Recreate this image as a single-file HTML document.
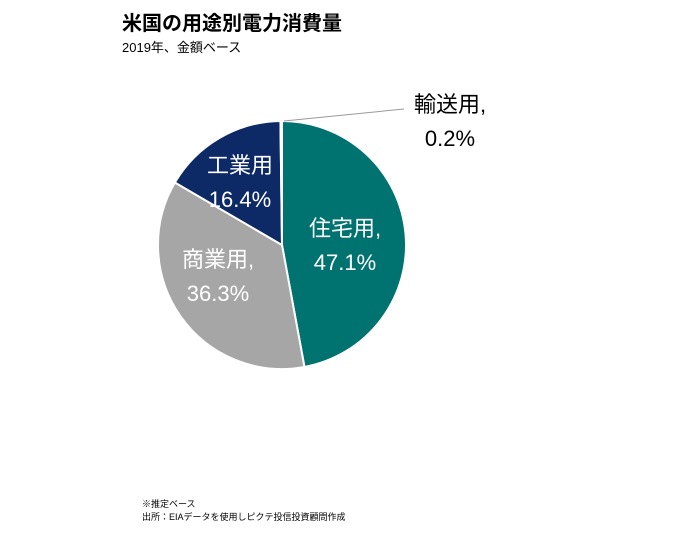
<!DOCTYPE html>
<html><head><meta charset="utf-8"><style>
body{margin:0;background:#fff;width:693px;height:543px;overflow:hidden;font-family:"Liberation Sans","Noto Sans CJK JP",sans-serif;}
</style></head><body>
<svg width="693" height="543">
<text x="122" y="30" font-size="20" font-weight="bold" fill="#000" style="font-family:'Liberation Sans','Noto Sans CJK JP',sans-serif">米国の用途別電力消費量</text>
<text x="122" y="52" font-size="13" fill="#000" style="font-family:'Liberation Sans','Noto Sans CJK JP',sans-serif">2019年、金額ベース</text>
<g id="slices"></g>
<g id="labels" style="font-family:'Liberation Sans','Noto Sans CJK JP',sans-serif"></g>
<line x1="284" y1="121" x2="404" y2="109" stroke="#999" stroke-width="1"/>
<text x="142" y="507" font-size="9" fill="#000" style="font-family:'Liberation Sans','Noto Sans CJK JP',sans-serif">※推定ベース</text>
<text x="142" y="520" font-size="9" fill="#000" style="font-family:'Liberation Sans','Noto Sans CJK JP',sans-serif">出所：EIAデータを使用しピクテ投信投資顧問作成</text>
</svg>
<script>
const categories=["住宅用","商業用","工業用","輸送用"];
const values=[47.1,36.3,16.4,0.2];
const valueLabels=["47.1%","36.3%","16.4%","0.2%"];
const colors=["#007370","#a6a6a6","#0e2a66","#0e2a66"];
const names=["slice-residential","slice-commercial","slice-industrial","slice-transport"];
const cx=282,cy=245,r=124;
const ns="http://www.w3.org/2000/svg";
const total=values.reduce((a,b)=>a+b,0);
function pt(a,rr){return [cx+rr*Math.sin(a),cy-rr*Math.cos(a)];}
let acc=0;
const g=document.getElementById('slices');
values.forEach((v,i)=>{
 const a0=acc/total*2*Math.PI;acc+=v;const a1=acc/total*2*Math.PI;
 const p0=pt(a0,r),p1=pt(a1,r);
 const large=(a1-a0)>Math.PI?1:0;
 const p=document.createElementNS(ns,'path');
 p.setAttribute('d',`M${cx},${cy}L${p0[0]},${p0[1]}A${r},${r} 0 ${large} 1 ${p1[0]},${p1[1]}Z`);
 p.setAttribute('fill',colors[i]);p.setAttribute('stroke','#fff');p.setAttribute('stroke-width','2');
 
 
 g.appendChild(p);
});
// label positions (layout only)
const lab=[{x:345,y:236,c:"#fff",comma:true},{x:218,y:267,c:"#fff",comma:true},{x:240,y:173,c:"#fff",comma:false},{x:450,y:112,c:"#000",comma:true}];
const lg=document.getElementById('labels');
categories.forEach((c,i)=>{
 const L=lab[i];
 const t1=document.createElementNS(ns,'text');
 t1.setAttribute('x',L.x);t1.setAttribute('y',L.y);t1.setAttribute('text-anchor','middle');
 t1.setAttribute('font-size','22');t1.setAttribute('fill',L.c);
 t1.textContent=c+(L.comma?",":"");
 
 
 lg.appendChild(t1);
 const t2=document.createElementNS(ns,'text');
 t2.setAttribute('x',L.x);t2.setAttribute('y',L.y+34);t2.setAttribute('text-anchor','middle');
 t2.setAttribute('font-size','22');t2.setAttribute('fill',L.c);
 t2.textContent=valueLabels[i];
 
 
 lg.appendChild(t2);
});
</script>
</body></html>
